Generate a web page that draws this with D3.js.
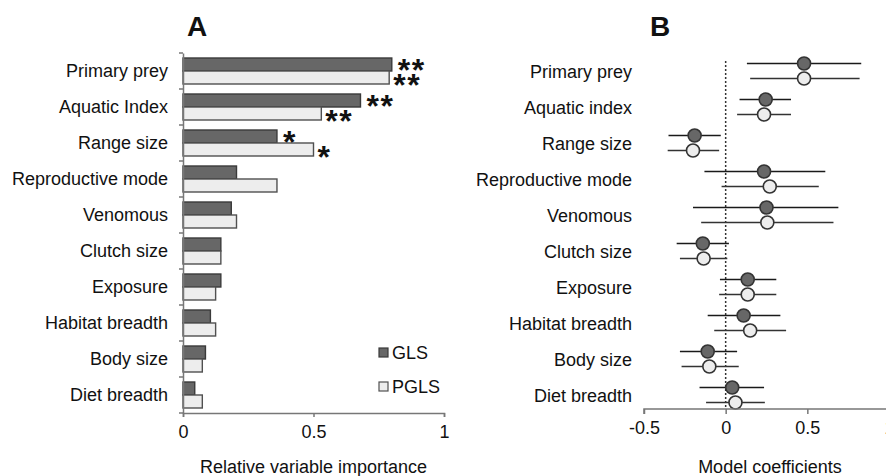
<!DOCTYPE html>
<html><head><meta charset="utf-8">
<script src="https://cdn.jsdelivr.net/npm/d3@7"></script>
<style>
body{margin:0;background:#fff;}
text{font-family:Arial,"Liberation Sans",sans-serif;fill:#111;}
</style></head>
<body><svg id="c" width="886" height="476"></svg>
<script>
const categoriesA = ["Primary prey","Aquatic Index","Range size","Reproductive mode","Venomous","Clutch size","Exposure","Habitat breadth","Body size","Diet breadth"];
const categoriesB = ["Primary prey","Aquatic index","Range size","Reproductive mode","Venomous","Clutch size","Exposure","Habitat breadth","Body size","Diet breadth"];
const series = ["GLS","PGLS"];
const importanceGLS  = [0.80,0.68,0.36,0.205,0.185,0.145,0.145,0.105,0.086,0.045];
const importancePGLS = [0.79,0.53,0.50,0.36,0.205,0.145,0.125,0.125,0.074,0.074];
const starsGLS  = ["**","**","*","","","","","","",""];
const starsPGLS = ["**","**","*","","","","","","",""];
const coefGLS   = [0.48,0.245,-0.19,0.235,0.25,-0.14,0.135,0.11,-0.11,0.04];
const lowGLS    = [0.13,0.085,-0.35,-0.13,-0.20,-0.30,-0.035,-0.11,-0.28,-0.16];
const highGLS   = [0.83,0.40,-0.03,0.61,0.69,0.02,0.31,0.335,0.07,0.235];
const coefPGLS  = [0.48,0.235,-0.20,0.27,0.255,-0.135,0.135,0.15,-0.10,0.06];
const lowPGLS   = [0.15,0.07,-0.355,-0.025,-0.15,-0.28,-0.04,-0.07,-0.27,-0.12];
const highPGLS  = [0.82,0.40,-0.04,0.57,0.66,0.01,0.31,0.37,0.08,0.24];
const ticksA = [0,0.5,1];
const ticksB = [-0.5,0,0.5,1];

const svg = d3.select("#c");
const fill = {GLS:"#676767", PGLS:"#ededed"};
const stroke = {GLS:"#3a3a3a", PGLS:"#505050"};
const fmt = d => String(d);

// ---------- Panel A ----------
const xA = d3.scaleLinear().domain([0,1]).range([183,444]);
const yA = d3.scaleBand().domain(categoriesA).range([53,413]);
const inA = d3.scaleBand().domain(series).range([0,yA.bandwidth()]).paddingOuter(0.385);
const gA = svg.append("g");
const barsA = [], starsA = [];
categoriesA.forEach((c,i)=>{
  barsA.push({c, s:"GLS", v:importanceGLS[i]});
  barsA.push({c, s:"PGLS", v:importancePGLS[i]});
  if(starsGLS[i]) starsA.push({c, s:"GLS", v:importanceGLS[i], t:starsGLS[i]});
  if(starsPGLS[i]) starsA.push({c, s:"PGLS", v:importancePGLS[i], t:starsPGLS[i]});
});
gA.selectAll("rect.bar").data(barsA).join("rect").attr("class","bar")
  .attr("x",xA(0)).attr("y",d=>yA(d.c)+inA(d.s)).attr("width",d=>xA(d.v)-xA(0))
  .attr("height",inA.bandwidth()).attr("fill",d=>fill[d.s]).attr("stroke",d=>stroke[d.s]).attr("stroke-width",1.4);
gA.selectAll("text.star").data(starsA).join("text").attr("class","star")
  .attr("x",d=>xA(d.v)+(d.s==="GLS"?6:4))
  .attr("y",d=>yA(d.c)+inA(d.s)+inA.bandwidth()/2+(d.s==="GLS"?16:19))
  .attr("font-size",32).attr("font-weight","bold").attr("letter-spacing",1.5).style("fill","#111").text(d=>d.t);

// y axis A
const axYA = gA.append("g").attr("transform",`translate(${xA(0)},0)`)
  .call(d3.axisLeft(yA).tickSize(0).tickFormat(""));
axYA.select(".domain").attr("stroke","#777").attr("stroke-width",1.5);
gA.selectAll("line.yt").data(d3.range(categoriesA.length+1)).join("line")
  .attr("x1",xA(0)-4).attr("x2",xA(0)).attr("y1",i=>yA.range()[0]+i*yA.step()).attr("y2",i=>yA.range()[0]+i*yA.step())
  .attr("stroke","#777").attr("stroke-width",1.5);
gA.selectAll("text.lab").data(categoriesA).join("text").attr("class","lab")
  .attr("x",168).attr("y",d=>yA(d)+yA.bandwidth()/2).attr("dy","0.35em")
  .attr("text-anchor","end").attr("font-size",18).text(d=>d);

// x axis A
const axXA = gA.append("g").attr("transform",`translate(0,${yA.range()[1]})`)
  .call(d3.axisBottom(xA).tickValues(ticksA).tickSize(4).tickPadding(8).tickFormat(fmt));
axXA.select(".domain").attr("stroke","#777").attr("stroke-width",1.5);
axXA.selectAll(".tick line").attr("stroke","#777").attr("stroke-width",1.5);
axXA.selectAll(".tick text").attr("font-size",18).attr("font-family","Arial, Liberation Sans, sans-serif").style("fill","#111");
gA.append("text").attr("x",(xA(0)+xA(1))/2).attr("y",473).attr("text-anchor","middle").attr("font-size",18).text("Relative variable importance");
gA.append("text").attr("x",197).attr("y",36).attr("text-anchor","middle").attr("font-size",28).attr("font-weight","bold").text("A");

// legend
const leg = gA.append("g");
series.forEach((s,i)=>{
  const y = 353 + i*34;
  leg.append("rect").attr("x",379).attr("y",y-5).attr("width",9).attr("height",9)
    .attr("fill",fill[s]).attr("stroke",stroke[s]).attr("stroke-width",1.2);
  leg.append("text").attr("x",392).attr("y",y).attr("dy","0.35em").attr("font-size",18).text(s);
});

// ---------- Panel B ----------
const xB = d3.scaleLinear().domain([-0.5,1]).range([644,889]);
const yB = d3.scaleBand().domain(categoriesB).range([53,413]);
const inB = d3.scalePoint().domain(series).range([yB.bandwidth()/2-7.5, yB.bandwidth()/2+7.5]);
const gB = svg.append("g");
gB.append("line").attr("x1",xB(0)).attr("x2",xB(0)).attr("y1",61).attr("y2",409)
  .attr("stroke","#333").attr("stroke-width",1.5).attr("stroke-dasharray","2,2");

const dataB = [];
categoriesB.forEach((c,i)=>{
  dataB.push({c, s:"GLS", v:coefGLS[i], lo:lowGLS[i], hi:highGLS[i]});
  dataB.push({c, s:"PGLS", v:coefPGLS[i], lo:lowPGLS[i], hi:highPGLS[i]});
});
gB.selectAll("line.ci").data(dataB).join("line").attr("class","ci")
  .attr("x1",d=>xB(d.lo)).attr("x2",d=>xB(d.hi))
  .attr("y1",d=>yB(d.c)+inB(d.s)).attr("y2",d=>yB(d.c)+inB(d.s))
  .attr("stroke",d=>d.s==="GLS"?"#1a1a1a":"#333").attr("stroke-width",1.6);
gB.selectAll("circle.pt").data(dataB).join("circle").attr("class","pt")
  .attr("cx",d=>xB(d.v)).attr("cy",d=>yB(d.c)+inB(d.s)).attr("r",6.5)
  .attr("fill",d=>fill[d.s]).attr("stroke","#333").attr("stroke-width",1.6);

gB.selectAll("text.lab").data(categoriesB).join("text").attr("class","lab")
  .attr("x",632).attr("y",d=>yB(d)+yB.bandwidth()/2+1).attr("dy","0.35em")
  .attr("text-anchor","end").attr("font-size",18).text(d=>d);

const axXB = gB.append("g").attr("transform",`translate(0,409)`)
  .call(d3.axisBottom(xB).tickValues(ticksB).tickSize(5).tickPadding(7).tickFormat(fmt));
axXB.select(".domain").attr("stroke","#777").attr("stroke-width",1.5).attr("d",`M${xB(-0.5)},5V0H${xB(1)}V5`);
axXB.selectAll(".tick line").attr("stroke","#777").attr("stroke-width",1.5);
axXB.selectAll(".tick text").attr("font-size",18).attr("font-family","Arial, Liberation Sans, sans-serif").style("fill","#111");
gB.append("text").attr("x",770).attr("y",473).attr("text-anchor","middle").attr("font-size",18).text("Model coefficients");
gB.append("text").attr("x",660).attr("y",36).attr("text-anchor","middle").attr("font-size",28).attr("font-weight","bold").text("B");
</script></body></html>
